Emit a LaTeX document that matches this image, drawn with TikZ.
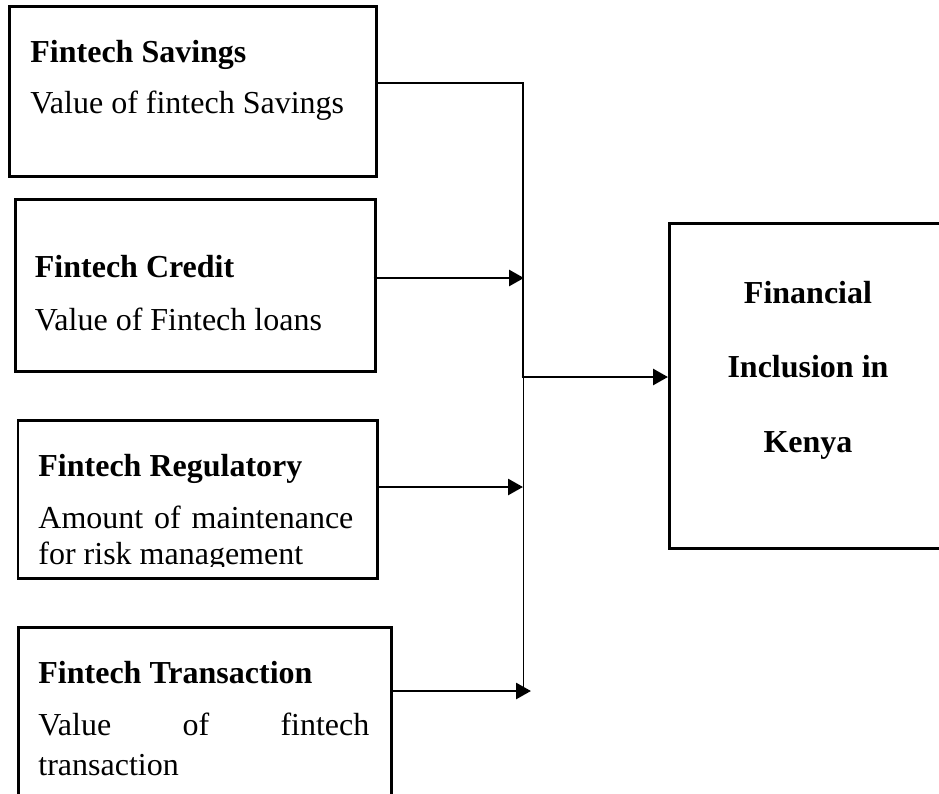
\documentclass[tikz,border=0pt]{standalone}
\usepackage{fontspec}
\setmainfont{Liberation Serif}
\usetikzlibrary{arrows.meta}

\begin{document}
\begin{tikzpicture}[x=0.5pt, y=-0.5pt,
  box/.style={draw=black, line width=1.35pt, rectangle, inner sep=0pt, anchor=north west},
  lbl/.style={anchor=base west, inner sep=0pt, font=\fontsize{16}{19}\selectfont},
  head/.style={lbl, font=\fontsize{16}{19}\selectfont\bfseries},
  link/.style={line width=1.4pt},
  arr/.style={link, -{Triangle[length=7.5pt, width=8pt]}},
  spine/.style={line width=0.6pt}]

\useasboundingbox (0,0) rectangle (939,794);
\clip (0,0) rectangle (939,794);

% independent variable boxes
\node[box, minimum width=183.5pt, minimum height=85pt] (sav) at (8,5) {};
\node[box, minimum width=180pt, minimum height=86pt] (cre) at (14,198) {};
\node[box, minimum width=179.75pt, minimum height=79pt] (reg) at (16.5,419) {};
\node[box, minimum width=186.5pt, minimum height=97pt] (trn) at (17,626) {};

% dependent variable box
\node[box, minimum width=141pt, minimum height=162.5pt] (fin) at (668,222) {};

% box texts
\node[head] (savh) at (30,62) {Fintech Savings};
\node[lbl]  (savt) at (30,113) {Value of fintech Savings};

\node[head] (creh) at (34.5,277) {Fintech Credit};
\node[lbl]  (cret) at (34.5,330) {Value of Fintech loans};

\node[head] (regh) at (38,476) {Fintech Regulatory};
\node[lbl]  (regt) at (38,528) {\makebox[157.5pt][s]{Amount \hfill of \hfill maintenance}};
\begin{scope}
  \clip (0,0) rectangle (939,566);
  \node[lbl] (regu) at (38,564) {for risk management};
\end{scope}

\node[head] (trnh) at (38,683) {Fintech Transaction};
\node[lbl]  (trnt) at (38,735) {\makebox[165.5pt][s]{Value \hfill of \hfill fintech}};
\node[lbl]  (trnu) at (38,775) {transaction};

\node[head, anchor=base] (fin1) at (808,303) {Financial};
\node[head, anchor=base] (fin2) at (808,377) {Inclusion in};
\node[head, anchor=base] (fin3) at (808,452) {Kenya};

% points on the collecting line
\coordinate (c1) at (523,83);
\coordinate (j)  at (523,377);
\coordinate (top) at (523.5,368);
\coordinate (c2) at (524,278);
\coordinate (c3) at (523,487);
\coordinate (c4) at (531,691);
\coordinate (bot) at (523.5,691);

% connectors
\draw[link] (sav.east |- c1) -- (c1) -- (j);
\draw[spine] (top) -- (bot);
\draw[arr] ([xshift=-1.5pt]cre.east |- c2) -- (c2);
\draw[arr] (reg.east |- c3) -- (c3);
\draw[arr] (trn.east |- c4) -- (c4);
\draw[arr] ([xshift=-0.7pt]j) -- (j -| fin.west);

\end{tikzpicture}
\end{document}
